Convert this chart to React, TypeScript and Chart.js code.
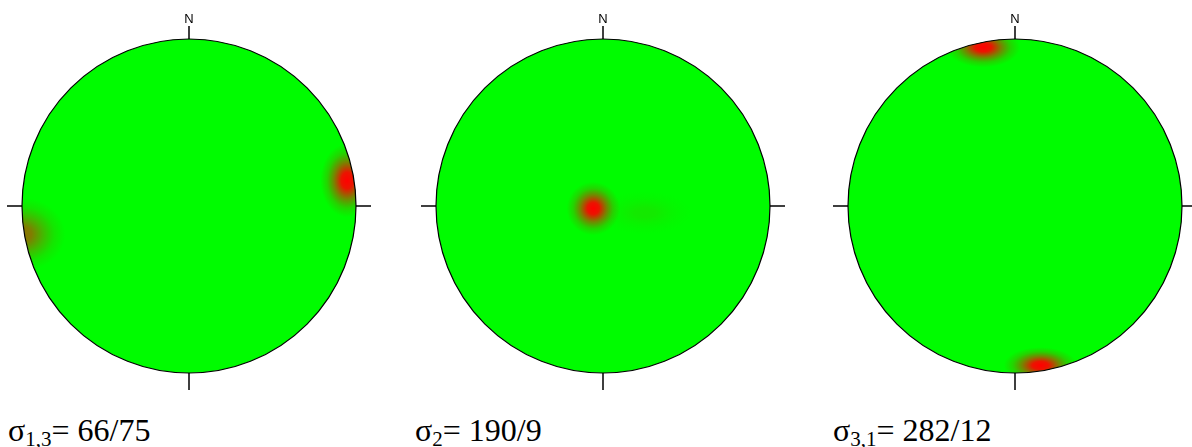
import React, { useEffect, useRef } from "react";
import { Chart, registerables } from "chart.js";

Chart.register(...registerables);

// Density maxima (normalized stereonet coordinates, x = east, y = north)
const net1X = [0.947, -1.0];
const net1Y = [0.153, -0.17];
const net1Strength = [1.0, 0.55];

const net2X = [-0.058, 0.25];
const net2Y = [-0.015, -0.04];
const net2Strength = [1.0, 0.08];

const net3X = [-0.19, 0.153];
const net3Y = [0.95, -0.955];
const net3Strength = [1.0, 1.0];

// Spread of each maximum (x, y) in normalized units
const net1Spread = [[0.16, 0.22], [0.26, 0.22]];
const net2Spread = [[0.16, 0.16], [0.28, 0.13]];
const net3Spread = [[0.22, 0.12], [0.22, 0.11]];

const captions = [
  { main: "σ", sub: "1,3", value: "= 66/75" },
  { main: "σ", sub: "2", value: "= 190/9" },
  { main: "σ", sub: "3,1", value: "= 282/12" },
];

const nets = [
  { xs: net1X, ys: net1Y, s: net1Strength, spread: net1Spread },
  { xs: net2X, ys: net2Y, s: net2Strength, spread: net2Spread },
  { xs: net3X, ys: net3Y, s: net3Strength, spread: net3Spread },
];

const CW = 380;
const CH = 400;
const R = 167;

const stereoPlugin = {
  id: "stereo",
  beforeDatasetsDraw(chart: any) {
    const ctx = chart.ctx as CanvasRenderingContext2D;
    const xs = chart.scales.x;
    const ys = chart.scales.y;
    const cx = xs.getPixelForValue(0);
    const cy = ys.getPixelForValue(0);
    const r = xs.getPixelForValue(1) - cx;
    const ds = chart.data.datasets[0];
    ctx.save();
    ctx.beginPath();
    ctx.arc(cx, cy, r, 0, Math.PI * 2);
    ctx.clip();
    ctx.fillStyle = "rgb(0,252,0)";
    ctx.fillRect(cx - r - 2, cy - r - 2, 2 * r + 4, 2 * r + 4);
    ds.data.forEach((p: any) => {
      const px = xs.getPixelForValue(p.x);
      const py = ys.getPixelForValue(p.y);
      const sx = xs.getPixelForValue(p.sx) - cx;
      const sy = cy - ys.getPixelForValue(p.sy);
      const a = p.s;
      ctx.save();
      ctx.translate(px, py);
      ctx.scale(sx, sy);
      const g = ctx.createRadialGradient(0, 0, 0, 0, 0, 1);
      g.addColorStop(0, `rgba(255,0,0,${a})`);
      g.addColorStop(0.22, `rgba(255,0,0,${a * 0.92})`);
      g.addColorStop(0.5, `rgba(235,15,0,${a * 0.5})`);
      g.addColorStop(0.75, `rgba(200,30,0,${a * 0.18})`);
      g.addColorStop(1, "rgba(180,40,0,0)");
      ctx.fillStyle = g;
      ctx.beginPath();
      ctx.arc(0, 0, 1, 0, Math.PI * 2);
      ctx.fill();
      ctx.restore();
    });
    ctx.restore();

    ctx.save();
    ctx.strokeStyle = "#000";
    ctx.lineWidth = 1.2;
    ctx.beginPath();
    ctx.arc(cx, cy, r, 0, Math.PI * 2);
    ctx.stroke();
    ctx.lineWidth = 1.5;
    const t = 15;
    ctx.beginPath();
    ctx.moveTo(cx - r - t, cy);
    ctx.lineTo(cx - r, cy);
    ctx.moveTo(cx + r, cy);
    ctx.lineTo(cx + r + t, cy);
    ctx.moveTo(cx, cy - r - t + 2);
    ctx.lineTo(cx, cy - r);
    ctx.moveTo(cx, cy + r);
    ctx.lineTo(cx, cy + r + t + 2);
    ctx.stroke();
    ctx.fillStyle = "#000";
    ctx.font = "13px 'Liberation Sans', Arial, sans-serif";
    ctx.textAlign = "center";
    ctx.textBaseline = "alphabetic";
    ctx.fillText("N", cx, cy - r - t - 1);
    ctx.restore();
  },
};

function Net({ idx, left }: { idx: number; left: number }) {
  const ref = useRef<HTMLCanvasElement>(null);
  useEffect(() => {
    const n = nets[idx];
    const data = n.xs.map((x, i) => ({
      x,
      y: n.ys[i],
      s: n.s[i],
      sx: n.spread[i][0],
      sy: n.spread[i][1],
    }));
    const hx = CW / 2 / R;
    const hy = CH / 2 / R;
    const chart = new Chart(ref.current!, {
      type: "scatter",
      data: { datasets: [{ data, pointRadius: 0, pointHoverRadius: 0 }] },
      options: {
        responsive: false,
        maintainAspectRatio: false,
        animation: false,
        events: [],
        layout: { padding: 0 },
        plugins: { legend: { display: false }, tooltip: { enabled: false } },
        scales: {
          x: { type: "linear", min: -hx, max: hx, display: false },
          y: { type: "linear", min: -hy, max: hy, display: false },
        },
      },
      plugins: [stereoPlugin],
    });
    return () => chart.destroy();
  }, [idx]);
  return (
    <canvas
      ref={ref}
      width={CW}
      height={CH}
      style={{ position: "absolute", left, top: 6, width: CW, height: CH }}
    />
  );
}

export default function App() {
  const lefts = [-1, 413, 825];
  const capLefts = [8, 415, 833];
  return (
    <div
      style={{
        position: "fixed",
        left: 0,
        top: 0,
        width: 1192,
        height: 447,
        overflow: "hidden",
        background: "#fff",
      }}
    >
      {lefts.map((l, i) => (
        <Net key={i} idx={i} left={l} />
      ))}
      {captions.map((c, i) => (
        <div
          key={i}
          style={{
            position: "absolute",
            left: capLefts[i],
            top: 414,
            fontFamily: "'Liberation Serif', 'Times New Roman', serif",
            fontSize: 32,
            lineHeight: "32px",
            whiteSpace: "nowrap",
            color: "#000",
          }}
        >
          {c.main}
          <span style={{ fontSize: 21, position: "relative", top: 5 }}>{c.sub}</span>
          {c.value}
        </div>
      ))}
    </div>
  );
}
